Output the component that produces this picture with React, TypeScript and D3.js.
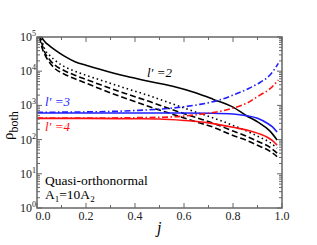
import React from "react";
import * as d3 from "d3";

// j positions for the four black curves
const jBlack = [0.01, 0.02, 0.033, 0.05, 0.073, 0.11, 0.155, 0.2, 0.26, 0.36, 0.46, 0.55, 0.65, 0.72, 0.8, 0.855, 0.9, 0.95, 0.98];
const blackSolid = [200000, 100000, 72000, 56000, 42000, 28000, 19000, 15000, 11200, 7200, 5000, 3700, 2300, 1500, 890, 500, 330, 180, 98];
const blackDotted = [160000, 79000, 42000, 30000, 21000, 13800, 10000, 7600, 5500, 3200, 1900, 1120, 630, 430, 260, 180, 126, 83, 56];
const blackDash1 = [126000, 63000, 34000, 22400, 15100, 10500, 7600, 5750, 4000, 2240, 1290, 760, 440, 300, 178, 126, 89, 60, 40];
const blackDash2 = [100000, 50000, 29500, 18600, 12000, 8300, 6000, 4470, 3000, 1620, 910, 560, 330, 230, 132, 95, 68, 46, 32];

const jBlueSolid = [0, 0.2, 0.4, 0.6, 0.7, 0.8, 0.855, 0.9, 0.94, 0.96, 0.98];
const blueSolid = [600, 600, 600, 600, 590, 560, 500, 420, 300, 240, 166];
const jRedSolid = [0, 0.2, 0.4, 0.5, 0.6, 0.7, 0.8, 0.87, 0.94, 0.96, 0.98];
const redSolid = [417, 417, 407, 400, 363, 309, 229, 178, 117, 95, 69];
const jBlueDashDot = [0, 0.2, 0.4, 0.5, 0.6, 0.665, 0.75, 0.8, 0.86, 0.91, 0.95, 0.985];
const blueDashDot = [630, 645, 708, 776, 912, 1070, 1480, 2000, 3020, 4680, 7590, 17000];
const jRedDashDot = [0, 0.2, 0.4, 0.54, 0.665, 0.75, 0.8, 0.86, 0.91, 0.95, 0.985];
const redDashDot = [427, 427, 437, 457, 550, 676, 832, 1200, 2000, 3020, 5500];

const xTicks = [0, 0.2, 0.4, 0.6, 0.8, 1.0];
const yExponents = [0, 1, 2, 3, 4, 5];

const W = 317, H = 245;
const m = { left: 37, right: 35, top: 37, bottom: 37 };
const BLUE = "#1f1fff";
const RED = "#ff1010";
const serif = "'Liberation Serif', 'DejaVu Serif', serif";

export default function App() {
  const x = d3.scaleLinear().domain([0, 1]).range([m.left, W - m.right]);
  const y = d3.scaleLog().domain([1, 1e5]).range([H - m.bottom, m.top]);
  const line = (js: number[], vs: number[]) =>
    d3.line<number>()
      .x((_, i) => x(js[i]))
      .y((v) => y(v))
      .curve(d3.curveMonotoneX)(vs) || "";

  const series = [
    { j: jBlack, v: blackSolid, c: "#000", dash: "" },
    { j: jBlack, v: blackDotted, c: "#000", dash: "1.5,3" },
    { j: jBlack, v: blackDash1, c: "#000", dash: "6,3" },
    { j: jBlack, v: blackDash2, c: "#000", dash: "6,3" },
    { j: jBlueSolid, v: blueSolid, c: BLUE, dash: "" },
    { j: jRedSolid, v: redSolid, c: RED, dash: "" },
    { j: jBlueDashDot, v: blueDashDot, c: BLUE, dash: "6,2.5,1.5,2.5" },
    { j: jRedDashDot, v: redDashDot, c: RED, dash: "6,2.5,1.5,2.5" },
  ];

  const x0 = m.left, x1 = W - m.right, y0 = H - m.bottom, y1 = m.top;
  const axisColor = "#666";
  const minorX = d3.range(1, 10, 2).map((d) => d / 10);
  const minorY: number[] = [];
  yExponents.slice(0, -1).forEach((e) => {
    for (let k = 2; k < 10; k++) minorY.push(k * Math.pow(10, e));
  });

  return (
    <svg width={W} height={H} style={{ position: "absolute", left: 0, top: 0, background: "#fff" }}>
      <defs>
        <clipPath id="plot">
          <rect x={x0} y={y1} width={x1 - x0} height={y0 - y1} />
        </clipPath>
      </defs>
      <g clipPath="url(#plot)">
        {series.map((s, i) => (
          <path key={i} d={line(s.j, s.v)} fill="none" stroke={s.c} strokeWidth={1.6} strokeDasharray={s.dash} />
        ))}
      </g>
      <g stroke={axisColor} strokeWidth={1}>
        {xTicks.map((t) => (
          <g key={"xm" + t}>
            <line x1={x(t)} x2={x(t)} y1={y0} y2={y0 - 5} />
            <line x1={x(t)} x2={x(t)} y1={y1} y2={y1 + 5} />
          </g>
        ))}
        {minorX.map((t) => (
          <g key={"xn" + t}>
            <line x1={x(t)} x2={x(t)} y1={y0} y2={y0 - 3} />
            <line x1={x(t)} x2={x(t)} y1={y1} y2={y1 + 3} />
          </g>
        ))}
        {yExponents.map((e) => (
          <g key={"ym" + e}>
            <line x1={x0} x2={x0 + 5} y1={y(Math.pow(10, e))} y2={y(Math.pow(10, e))} />
            <line x1={x1} x2={x1 - 5} y1={y(Math.pow(10, e))} y2={y(Math.pow(10, e))} />
          </g>
        ))}
        {minorY.map((v) => (
          <g key={"yn" + v}>
            <line x1={x0} x2={x0 + 3} y1={y(v)} y2={y(v)} />
            <line x1={x1} x2={x1 - 3} y1={y(v)} y2={y(v)} />
          </g>
        ))}
      </g>
      <rect x={x0} y={y1} width={x1 - x0} height={y0 - y1} fill="none" stroke={axisColor} strokeWidth={1.5} />
      <g fontFamily={serif} fontSize={12} fill="#222">
        {xTicks.map((t) => (
          <text key={"xl" + t} x={x(t) + (t === 0 ? 6 : 0)} y={y0 + 12} textAnchor="middle">
            {t.toFixed(1)}
          </text>
        ))}
        {yExponents.map((e) => (
          <text key={"yl" + e} x={x0 - 1} y={y(Math.pow(10, e)) + 4} textAnchor="end">
            10<tspan dy={-5} fontSize={8}>{e}</tspan>
          </text>
        ))}
      </g>
      <text transform={`translate(13,140) rotate(-90)`} fontFamily={serif} fontSize={15} fill="#000">
        ρ<tspan dy={5} fontSize={12}>both</tspan>
      </text>
      <text x={157} y={233} fontFamily={serif} fontSize={16} fontStyle="italic" fill="#000">j</text>
      <g fontFamily={serif} fontSize={13} fontStyle="italic">
        <text x={147} y={77} fill="#000">l′ =2</text>
        <text x={45} y={106} fill={BLUE}>l′ =3</text>
        <text x={45} y={131} fill={RED}>l′ =4</text>
      </g>
      <g fontFamily={serif} fontSize={13.5} fill="#000">
        <text x={45} y={185}>Quasi-orthonormal</text>
        <text x={45} y={199}>
          A<tspan dy={3} fontSize={9}>1</tspan>
          <tspan dy={-3}>=10A</tspan>
          <tspan dy={3} fontSize={9}>2</tspan>
        </text>
      </g>
    </svg>
  );
}
